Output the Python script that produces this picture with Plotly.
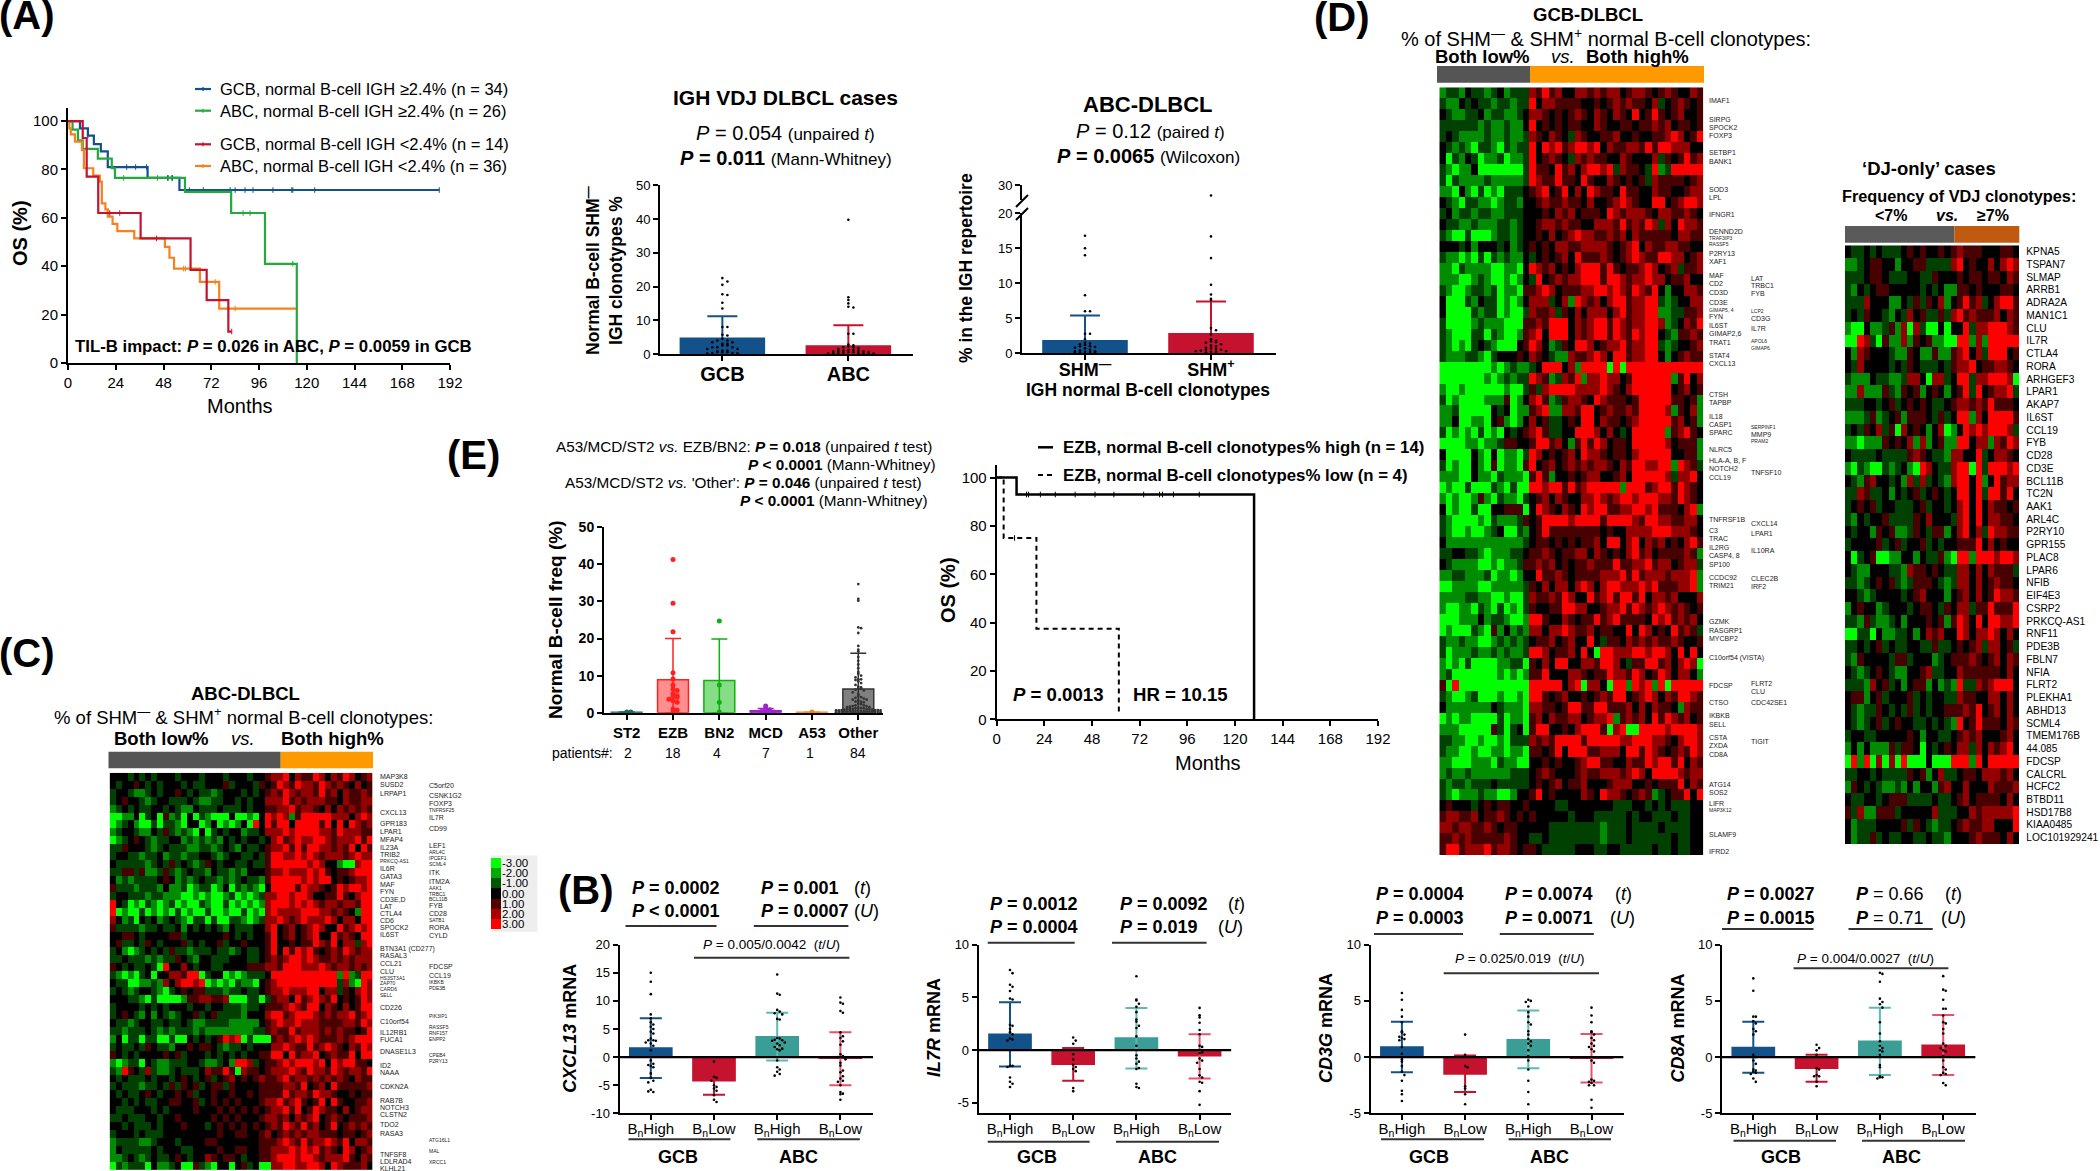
import numpy as np
import plotly.graph_objects as go

W, H = 2100, 1171
FONT = "Liberation Sans"

# ---------- panel A, survival curves (months, OS %) ----------
A_MONTHS = ["0", "24", "48", "72", "96", "120", "144", "168", "192"]
A_GCB_HI_X = [0, 6, 10, 13, 16.5, 20, 40, 56, 186.6]
A_GCB_HI_Y = [100, 97, 94, 90.5, 87.5, 81, 76.5, 71.5, 71.5]
A_GCB_HI_CENS = [10, 29.5, 34, 39.5, 50, 52.5, 61, 68, 81.5, 84, 89, 93, 103, 112.5, 113, 124, 186.6]
A_ABC_HI_X = [0, 2.3, 5, 7.4, 15, 22, 23.6, 58.8, 82, 99, 115, 115]
A_ABC_HI_Y = [100, 96.5, 92, 88.5, 84.5, 80.5, 76.5, 70.7, 62, 41, 41, 0]
A_ABC_HI_CENS = [28, 45, 50.5, 52, 88, 91.5, 113]
A_GCB_LO_X = [0, 7.4, 9.4, 15.2, 36.5, 61.6, 69.7, 80.6, 82.3]
A_GCB_LO_Y = [100, 93, 77, 62, 51.5, 38.5, 26, 13, 13]
A_GCB_LO_CENS = [21, 26, 44.5, 82.3]
A_ABC_LO_X = [0, 0.7, 1.4, 3.5, 7, 8, 12.7, 16, 17, 18.8, 20, 22.4, 24.8, 33.3, 48.7, 51, 53.3, 66.3, 76, 114.6]
A_ABC_LO_Y = [100, 97, 94.5, 91.5, 88, 80.5, 77.5, 75, 66, 63.5, 60.5, 57.5, 54.5, 51.5, 48, 43.5, 39, 33.5, 22.5, 22.5]
A_ABC_LO_CENS = [58, 59, 74, 84]
A_LEGEND = ["GCB, normal B-cell IGH ≥2.4% (n = 34)", "ABC, normal B-cell IGH ≥2.4% (n = 26)",
            "GCB, normal B-cell IGH &lt;2.4% (n = 14)", "ABC, normal B-cell IGH &lt;2.4% (n = 36)"]

# ---------- panel E, survival curves ----------
E_HI_X = [0, 10, 129.6, 129.6]
E_HI_Y = [100, 93, 93, 0]
E_HI_CENS = [15, 16, 22, 29.5, 39.5, 49.5, 59, 74, 82, 83.5, 89, 102]
E_LO_X = [0, 3.5, 20, 61.5, 61.5]
E_LO_Y = [100, 75, 37.5, 37.5, 2]
E_LO_CENS = [9]

# ---------- bars: mean and upper / lower whisker ----------
IGH_CATS = ["GCB", "ABC"]
IGH_MEAN = [4.7, 2.4]
IGH_HIGH = [11.2, 8.5]
IGH_GCB = [22.5, 21.5, 20.5, 17.7, 17.5, 15.2, 13.5, 8, 8, 5.7, 5.5, 4.5, 4, 4, 3.5, 3.5, 3, 3, 2.5, 2.5, 2, 2, 2, 1.5, 1.5, 1, 1, 0.8, 0.5, 0.5, 0.5, 0.3, 0.3, 0.2, 0.1]
IGH_ABC = [39.8, 16.8, 16, 15, 14, 13.8, 6, 6, 2.8, 2.6, 2.2, 2, 2, 1.8, 1.5, 1.2, 1.2, 1, 1, 0.9, 0.8, 0.7, 0.6, 0.5, 0.5, 0.4, 0.3, 0.3, 0.2, 0.2, 0.1, 0.1, 0.1]

SHM_CATS = ["SHM<sup>—</sup>", "SHM<sup>+</sup>"]
SHM_MEAN = [1.8, 2.8]
SHM_HIGH = [5.4, 7.4]
SHM_NEG = [16.8, 15, 14, 8.3, 6, 6, 2.8, 2.8, 2, 1.5, 1.4, 1.3, 1.2, 1, 1, 0.9, 0.8, 0.7, 0.5, 0.4, 0.3, 0.3, 0.2, 0.2, 0.1, 0.1, 0.1]
SHM_POS = [16.7, 13.6, 9.8, 8.4, 7.8, 7.6, 3.6, 3.3, 2.7, 2, 1.8, 1.7, 1.6, 1.5, 1.3, 1.1, 1, 0.8, 0.7, 0.6, 0.5, 0.5, 0.4, 0.3, 0.3, 0.2, 0.2, 0.1]
SHM_POS_BROKEN = [23]

E_CATS = ["ST2", "EZB", "BN2", "MCD", "A53", "Other"]
E_PATIENTS = ["2", "18", "4", "7", "1", "84"]
E_MEAN = [0.1, 8.9, 8.7, 0.5, 0.1, 6.4]
E_HIGH = [0.2, 20, 19.9, 1.1, 0.1, 16]
E_POINTS = [
    [0.2, 0.2],
    [41.3, 29.5, 21.8, 10.8, 9.1, 7.5, 6.4, 6, 5.2, 4.6, 4.4, 4.2, 3.6, 3.2, 2.8, 1, 0.7, 0.2],
    [24.7, 7.5, 2.8, 0.2],
    [1.8, 1, 0.8, 0.5, 0.4, 0.3, 0.2],
    [0.2],
    [34.7, 30.7, 30.2, 23, 22.8, 21.5, 18, 17, 16.5, 15, 14, 13, 12, 11, 10.5, 10, 9.5, 9, 9, 8.8, 8.5, 8, 7.5, 7, 6.8, 6.5, 6.5, 6.2, 6, 5.5,
     5, 4.5, 4.2, 4, 3.8, 3.5, 3.5, 3.3, 3, 3, 2.8, 2.5, 2.3, 2, 2, 1.8, 1.8, 1.6, 1.5, 1.5, 1.3, 1.3, 1.2, 1.2, 1, 1, 1, 0.9, 0.9, 0.8, 0.8, 0.7, 0.7, 0.7,
     0.6, 0.6, 0.6, 0.5, 0.5, 0.5, 0.4, 0.4, 0.4, 0.4, 0.3, 0.3, 0.3, 0.3, 0.2, 0.2, 0.2, 0.2, 0.1, 0.1],
]

B_CATS = ["B<sub>n</sub>High", "B<sub>n</sub>Low", "B<sub>n</sub>High", "B<sub>n</sub>Low"]

CXCL13_MEAN = [1.6, -4.2, 3.6, -0.2]
CXCL13_HIGH = [6.9, 0, 7.9, 4.4]
CXCL13_LOW = [-3.7, -6.7, -0.6, -5]
CXCL13_POINTS = [
    [15, 13.4, 11.2, 7.6, 6.9, 6.2, 5.8, 5.4, 5, 4.5, 4.2, 3.3, 3, 3, 2.9, 2.6, 2.4, 2, 1.2, -0.6, -1.2, -1.4, -1.6, -1.8, -2.9, -3.7, -4.2, -4.5, -5.8, -6.2, -6.1],
    [-0.8, -3.5, -3.7, -4.2, -5, -5.3, -5.6, -6, -6.8, -7.6, -8],
    [14.7, 11.3, 11.1, 8.4, 8.1, 7.8, 7.6, 6.8, 6.7, 3.4, 3.3, 3.1, 3, 2.9, 2.6, 2.4, 2.1, 1.8, 1.5, 1.4, 1.2, -0.6, -1.8, -2.2, -2.6, -3, -3.3],
    [10.6, 9.7, 9.5, 8.2, 7.9, 4.4, 3.7, 3.4, 2.8, 2.2, 0.5, 0.2, 0, -0.4, -1, -1.5, -2.4, -2.7, -3.4, -3.8, -4.2, -4.4, -5, -6.2, -6.5, -6.6, -7.6],
]
IL7R_MEAN = [1.5, -1.35, 1.15, -0.55]
IL7R_HIGH = [4.55, 0.2, 4.0, 1.5]
IL7R_LOW = [-1.55, -2.9, -1.75, -2.7]
IL7R_POINTS = [
    [7.6, 7.3, 6.2, 6, 5.6, 4.9, 4.8, 2.4, 2.3, 2, 1.7, 1.5, 1.1, 1, 0.9, -1.5, -1.5, -1.6, -2.6, -3, -3.2, -3.5],
    [1.2, 0.9, 0.6, -0.4, -0.9, -1.4, -1.6, -1.8, -2, -3.6, -3.9],
    [7, 4.8, 4.7, 4.4, 4.1, 3.6, 2.9, 2.7, 2.3, 2.1, 1.3, 0.4, -0.5, -0.8, -1.1, -1.3, -1.7, -1.8, -3.2, -3.5, -3.6],
    [4, 3.3, 3.1, 2.6, 1.9, 1.5, 0.4, 0.3, 0, -0.2, -0.3, -0.8, -1, -1.2, -1.8, -2.4, -2.6, -3, -3.1, -3.9, -5.2],
]
CD3G_MEAN = [0.9, -1.5, 1.55, -0.1]
CD3G_HIGH = [3.15, 0.15, 4.15, 2.05]
CD3G_LOW = [-1.35, -3.1, -1, -2.25]
CD3G_POINTS = [
    [5.7, 5.1, 4.2, 3.6, 3.1, 2.3, 2.2, 2, 1.8, 1.7, 1.6, 1.5, 0.9, 0.3, -0.2, -0.4, -0.8, -1.3, -1.6, -2.1, -3, -3.3, -3.9],
    [2, 0.2, -0.8, -0.9, -2.6, -2.8, -3.3, -4.2],
    [5.1, 5, 4.9, 4.5, 4, 3.6, 3.1, 2.9, 2.3, 2, 1.6, 1.4, 1.2, 1, 0.6, 0.1, -0.3, -1.1, -2.1, -3.1, -4.2],
    [4.4, 3.7, 3.1, 2.3, 2.2, 2, 1.7, 1.5, 1.2, 1, 0.9, 0.7, 0.5, -0.3, -0.5, -2, -2.1, -2.2, -2.3, -2.5, -2.5, -3.8, -4.5],
]
CD8A_MEAN = [0.85, -1, 1.4, 1.05]
CD8A_HIGH = [3.15, 0.2, 4.4, 3.75]
CD8A_LOW = [-1.4, -2.2, -1.6, -1.6]
CD8A_POINTS = [
    [7, 5.9, 3.6, 3.6, 3.2, 3, 2.5, 2.3, 2, 0.2, 0, -0.3, -0.6, -1.1, -1.2, -1.3, -1.4, -1.5, -1.9, -2.2],
    [1.1, 0.8, 0.6, 0.2, -1, -1.1, -1.6, -1.7, -1.7, -2.2, -2.6],
    [7.5, 7.4, 6.7, 5.2, 4.9, 4.7, 4.4, 3.1, 2.1, 1.4, 1, 0.8, 0.6, 0.5, 0.2, -0.7, -0.9, -1.7, -1.8, -1.8, -1.9],
    [7.2, 6, 5.9, 5.1, 4.3, 4.3, 3.7, 3.1, 3, 2.5, 2.1, 1.2, 1, 0.8, 0.6, 0.5, 0.1, -0.3, -0.9, -1.1, -1.4, -1.5, -1.6, -2.3, -2.5],
]

# ---------- heatmaps, hand read cell by cell: 0 = -3 (green) .. 3 = 0 (black) .. 6 = +3 (red) ----------
HEAT_C = """
33323232333 23332333233 32334556354 46535465345
32334323233 32322333423 33243465465 54654543534
23321123233 43232212333 23234546545 54645354454
23433212332 22321122332 32335556454 55544354455
12323223323 21132223222 32334455645 54353545454
00113023041 20302100030 01036565146 66665553565
01231002022 10330130101 30636466366 66463636545
12332113242 12103023233 12235556566 66554655544
01234321223 31212121323 23323564565 56654555646
22433321232 22112212321 32234556464 66554546364
23322122312 21223321233 22324665565 65455545655
32222212324 23212432332 23224666666 56533100566
22442411242 12322132212 13334556555 65643445666
31212222343 12123221212 32214666665 65663434556
42221222131 12012201302 12103666646 55434656656
23322212211 10010100120 10125566566 53344643566
63201021012 01002100201 01015666565 65455455466
60100201010 20100200100 20105655556 66554543166
53120323123 21022020022 10125565456 55565355366
42222122322 31323232132 22335634534 56533645656
33443233334 42333333432 32334634534 56336454366
34223243233 34232334233 43334633434 46546355256
23101232324 22122232212 32234636465 64345465455
22322212122 43213322233 32234545665 65445454555
43232232063 35323322333 34445546665 55654554545
21010230335 54660233010 12223666666 66666161266
32200112153 56656010102 11034566666 66666251065
23212332102 34344222122 32234556555 66355243565
33322102000 01445544500 02202455364 56546343465
23333232323 33233233222 12234445654 66354353466
23432131321 23342342222 13335664566 65454556456
32212332232 23211222211 11134565565 55444455465
22122232121 22212111111 11224544645 55454544346
13022022002 00323234656 02000454565 65444545666
23223243221 33434432122 32333556544 64565435465
43232333343 42333232323 23344663645 56345446366
10122032112 22332112316 65234456566 65636566443
21643252112 32223544640 54434555654 65546545546
32322232332 34323423453 43454456455 45454543544
23222122324 24342344243 33344445546 34536444445
32322343233 43423343343 34344446455 46554334344
33232322334 43342343434 33345564564 34636433445
32223332323 33343334343 43434556463 46544353455
22322233233 43333343434 33345545354 56345434445
33232223233 34333234343 43434546546 45346345454
23332322233 33333334334 43345345454 55444344345
12222112333 23333443333 33344456546 45565463554
13222223233 32233334334 43344555656 56454365345
11232123223 43233543443 23344566656 65455564354
02122203112 30042103303 42300556655 66536544453
"""

HEAT_D = """
12213221231222 546453355 454553455 434543354
21132322122122 635544443 343454544 352345434
32112231221123 554343454 354354363 464345334
22222212112113 634343443 354334434 454534434
23211112112112 543543254 334453343 344565346
32121022102122 636564566 563544554 646655533
30213201120112 634543254 544335433 352434645
21011300000002 644364535 665625443 261266666
20211112111112 654464436 433543434 254444345
11031020102223 456346353 654436443 354433455
32102211012213 345445443 533456543 366345665
23122122112223 334354534 443654555 435544543
32211211122123 345545443 355546454 652536554
21002000122123 343534565 544545354 444435544
33323133323123 434355445 555434563 544554433
21101020212113 234345364 445434565 446655345
11021111001103 654534356 664643445 653452445
11100121001013 263454556 664665455 655344533
21001221201104 456534445 566565465 463133554
30002132201013 555235165 453566455 662123355
30000212201002 544524353 555356455 661122445
20000121110004 454666354 566465455 665123546
21000220210014 563666354 566465465 663214454
21010232100034 653124366 534556455 662123345
21112210233343 543211544 565366455 663134544
00000000101211 236663516 666060666 666666666
00000001012122 654125461 556553466 666614635
10010000001002 425666655 556543566 666634534
20100001114013 564124554 365444346 666644341
11200000323011 456115546 634544546 666514351
11300110341013 534223436 635443456 666645341
20101020103234 564223366 653532366 666145643
00001101124433 466453146 465344366 666534441
30000310301102 653434536 554344356 666633441
20100310401104 634534545 455435466 556616542
11100311021110 464133434 553345366 666525563
01002000210200 665664645 666661666 456646543
10100141021102 345354335 565456656 665546543
30100200334440 365435436 566445566 564443561
21000010211124 346666566 664666654 665544553
21001001230021 346444444 443433555 566655543
31111111111112 344343434 453663563 545343564
22332210111223 445434455 354343564 534444541
32111100101124 454534344 544464455 645534552
11221112011013 364454344 445556464 555455561
00111100111112 435355356 535665556 564445561
11112211001002 544546533 645646646 355453335
10011021020102 433446655 334556465 456545434
00011131221001 664335434 464564444 365645453
01000210413121 553556544 534433636 534364542
21121100121212 344534533 632443545 454454334
20111211212112 665344536 306655566 566536363
10102000011220 435366335 546653244 664535650
12000000010101 446333554 344655465 346535531
40600000000000 666663560 553066165 616066666
21001200010010 664345334 345466345 653546654
31111111321110 554434664 466444535 354431544
01011000020110 453544553 455614545 364654534
11100000420230 466334356 664056006 666566665
22110010010222 545466664 666665566 655435665
21100100110110 443463666 445553664 654345465
11000111021100 334343345 664433544 656646354
12112111111222 345433345 445554565 366665455
21221222322222 343453445 333455533 434446354
21011121100133 463433335 436554345 412344636
34333234344334 333322333 333322233 232322233
45544534454343 433333233 322222323 322232233
55455445434433 333222222 221222322 223222233
44545444445433 223222222 221222322 222232233
46645556455434 432222233 322332222 232232233
"""

HEAT_DJ = """
3223232 2234343 3434544 4333443
1123443 3133442 2225634 3353565
2223443 2223322 4333434 4344354
2132344 3333323 2311443 4333443
2225333 1132424 3513464 5235664
2324332 1325342 2425645 4445354
1003112 4150520 0303362 5566654
0065204 1151434 1100661 5166666
3154333 2114311 4114563 5266634
3253333 2324322 2324556 3445543
2111322 1125530 5523662 5566650
1151114 2143413 4313462 6345562
2223323 4234343 2234554 5464443
1112412 3414443 2423661 5366664
2324352 4053431 3501365 6566652
1101114 3435151 3411663 5515465
3222232 2224543 2215533 6235543
1021002 1231065 3225660 6266656
3214533 2315252 3215663 6136455
2254223 1323423 4323663 6266463
2343423 3222342 3323563 6354434
2132334 2222435 3332563 6355443
3233143 4112432 4413563 5265544
2333342 3423342 3233444 6353433
3023400 1133132 2410661 6665665
3211333 2215443 4322553 5354442
2212343 4212444 3212553 5345443
3321233 3323453 3313453 5346554
1343312 3332344 3243552 4464446
2214211 2313334 3414653 6366556
0022031 1223135 4533653 5565353
2232342 3223322 4223434 5255342
2143333 2442333 1234445 4345354
3212343 2113345 2233544 4444353
2221534 2313441 3121622 5456663
3441342 3334232 3322544 3355353
3212243 2324232 3344454 6345353
3212342 3433223 2321634 6444354
2332233 3334313 3223454 5333453
1313111 4244303 2343552 5354563
0616050 5060003 0006661 6366666
2233232 2224341 3522344 3555453
1432321 1213133 1453353 3354445
3223323 4442222 3223453 4444353
4251144 4233333 5222335 4555556
3122233 3342432 1223454 4553336
3122423 2233223 2213334 5444353
"""

DJ_GENES = ["KPNA5", "TSPAN7", "SLMAP", "ARRB1", "ADRA2A", "MAN1C1", "CLU", "IL7R", "CTLA4", "RORA", "ARHGEF3", "LPAR1",
            "AKAP7", "IL6ST", "CCL19", "FYB", "CD28", "CD3E", "BCL11B", "TC2N", "AAK1", "ARL4C", "P2RY10", "GPR155",
            "PLAC8", "LPAR6", "NFIB", "EIF4E3", "CSRP2", "PRKCQ-AS1", "RNF11", "PDE3B", "FBLN7", "NFIA", "FLRT2",
            "PLEKHA1", "ABHD13", "SCML4", "TMEM176B", "44.085", "FDCSP", "CALCRL", "HCFC2", "BTBD11", "HSD17B8",
            "KIAA0485", "LOC101929241"]

LEGEND_VALUES = [-3, -2, -1, 0, 1, 2, 3]
LEGEND_TEXT = ["-3.00", "-2.00", "-1.00", "0.00", "1.00", "2.00", "3.00"]

# gene labels beside the two big heatmaps
C_LEFT = ["MAP3K8", "SUSD2", "LRPAP1", "CXCL13", "GPR183", "LPAR1", "MFAP4", "IL23A", "TRIB2", "PRKCQ-AS1", "IL6R", "GATA3", "MAF", "FYN",
          "CD3E,D", "LAT", "CTLA4", "CD6", "SPOCK2", "IL6ST", "BTN3A1 (CD277)", "RASAL3", "CCL21", "CLU", "HS3ST3A1", "ZAP70", "CARD6", "SELL",
          "CD226", "C10orf54", "IL12RB1", "FUCA1", "DNASE1L3", "ID2", "NAAA", "CDKN2A", "RAB7B", "NOTCH3", "CLSTN2", "TDO2", "RASA3", "TNFSF8",
          "LDLRAD4", "KLHL21"]
C_LEFT_Y = [776, 784.8, 793.2, 812.2, 823, 831.5, 839.3, 847.3, 854.4, 861, 868, 876.5, 884.2, 891.3, 899, 906.4, 913.7, 920.8, 927.8, 934.8,
            948.9, 955.9, 963, 971, 977.7, 983.3, 989, 994.9, 1007.6, 1021.6, 1032.2, 1039.9, 1051.5, 1065.5, 1072.6, 1086.6, 1100.3, 1107.7,
            1114.7, 1124.2, 1133.3, 1154.4, 1161.8, 1168]
C_RIGHT = ["C5orf20", "CSNK1G2", "FOXP3", "TNFRSF25", "IL7R", "CD99", "LEF1", "ARL4C", "IPCEF1", "SCML4", "ITK", "ITM2A", "AAK1", "TRBC1", "BCL11B",
           "FYB", "CD28", "SATB1", "RORA", "CYLD", "FDCSP", "CCL19", "IKBKB", "PDE3B", "PIK3IP1", "RASSF5", "RNF157", "ENPP2", "CPEB4", "P2RY13",
           "ATG16L1", "MAL", "XRCC1"]
C_RIGHT_Y = [785.5, 795.7, 803.4, 810.4, 817.8, 828.4, 845.2, 852.3, 857.9, 863.5, 872.6, 881, 888.1, 893.7, 899.3, 905.7, 913.4, 920.4, 927.5,
             935.9, 966.8, 975.2, 982.3, 987.9, 1016, 1027.2, 1032.9, 1038.5, 1055.3, 1061, 1139.7, 1150.9, 1162.2]
C_SMALL = {"PRKCQ-AS1", "HS3ST3A1", "ZAP70", "CARD6", "SELL", "TNFRSF25", "ARL4C", "IPCEF1", "SCML4", "AAK1", "TRBC1", "BCL11B", "SATB1",
           "IKBKB", "PDE3B", "PIK3IP1", "RASSF5", "RNF157", "ENPP2", "CPEB4", "P2RY13", "ATG16L1", "MAL", "XRCC1"}
D_LEFT = ["IMAF1", "SIRPG", "SPOCK2", "FOXP3", "SETBP1", "BANK1", "SOD3", "LPL", "IFNGR1", "DENND2D", "TRAF3IP3", "RASSF5", "P2RY13", "XAF1", "MAF",
          "CD2", "CD3D", "CD3E", "GIMAP5, 4", "FYN", "IL6ST", "GIMAP2,6", "TRAT1", "STAT4", "CXCL13", "CTSH", "TAPBP", "IL18", "CASP1", "SPARC",
          "NLRC5", "HLA-A, B, F", "NOTCH2", "CCL19", "TNFRSF1B", "C3", "TRAC", "IL2RG", "CASP4, 8", "SP100", "CCDC92", "TRIM21", "GZMK", "RASGRP1",
          "MYCBP2", "C10orf54 (VISTA)", "FDCSP", "CTSO", "IKBKB", "SELL", "CSTA", "ZXDA", "CD8A", "ATG14", "SOS2", "LIFR", "MAP3K12", "SLAMF9", "IFRD2"]
D_LEFT_Y = [100, 119.3, 127.7, 136, 153, 161.3, 189, 197.7, 214.3, 231.3, 238.3, 244, 253.3, 261.7, 275, 283.7, 292, 302.7, 309.7, 316.7, 325,
            333.7, 342, 355, 363.3, 394.3, 402.7, 416, 424.3, 432.7, 450, 460.7, 469, 477.7, 519.7, 530.3, 538.7, 547.3, 555.7, 564, 577.3, 585.7,
            621.7, 630, 638.7, 657.7, 685.7, 702.7, 715.7, 724, 737, 745.7, 754, 784, 792.7, 803.3, 810.3, 834, 851]
D_RIGHT = ["LAT", "TRBC1", "FYB", "LCP2", "CD3G", "IL7R", "APOL6", "GIMAP6", "SERPINF1", "MMP9", "PRAM2", "TNFSF10", "CXCL14", "LPAR1", "IL10RA",
           "CLEC2B", "IRF2", "FLRT2", "CLU", "CDC42SE1", "TIGIT"]
D_RIGHT_Y = [278.5, 285.2, 293, 310.6, 318.7, 328, 341.4, 348, 427, 434, 441, 472.7, 523.6, 533, 550.4, 578, 586.5, 683, 691, 702, 741.8]
D_SMALL = {"TRAF3IP3", "RASSF5", "GIMAP5, 4", "MAP3K12", "LCP2", "APOL6", "GIMAP6", "SERPINF1", "PRAM2"}

BLUE, RED, TEAL = "#12518a", "#c4122f", "#3a9e96"
GREEN, ORANGE = "#22aa3c", "#f58220"
GREY_BAR, ORANGE_BAR, RUST_BAR = "#555555", "#ff9900", "#c05a10"

fig = go.Figure()
annots, shapes = [], []
axes = {}


def text(x, y, s, size=14, anchor="left", angle=0, color="black"):
    annots.append(dict(x=x / W, y=1 - y / H, xref="paper", yref="paper", text=s, showarrow=False, xanchor=anchor,
                       yanchor="middle", textangle=angle, borderpad=0, borderwidth=0,
                       font=dict(family=FONT, size=size, color=color)))


def rule(x0, y0, x1, y1, color="#333333", width=2, dash="solid"):
    shapes.append(dict(type="line", xref="paper", yref="paper", x0=x0 / W, x1=x1 / W, y0=1 - y0 / H, y1=1 - y1 / H,
                       line=dict(color=color, width=width, dash=dash)))


def block(x0, y0, x1, y1, color):
    shapes.append(dict(type="rect", xref="paper", yref="paper", x0=x0 / W, x1=x1 / W, y0=1 - y0 / H, y1=1 - y1 / H,
                       fillcolor=color, line=dict(width=0), layer="below"))


def add_axes(n, left, right, top, bottom, xr, yr, xt=None, xl=None, yt=None, yl=None, xsize=15, ysize=15, show_x=True, tick=5):
    suffix = "" if n == 1 else str(n)
    # automargin comes on from the default template and would push every panel inwards
    base = dict(showgrid=False, zeroline=False, showline=True, linecolor="black", linewidth=2, ticks="outside",
                ticklen=tick, tickwidth=2, tickcolor="black", fixedrange=True, automargin=False)
    x = dict(base, domain=[left / W, right / W], range=xr, anchor="y" + suffix, tickvals=xt, ticktext=xl,
             tickfont=dict(family=FONT, size=xsize, color="black"), tickangle=0)
    if not show_x:
        x.update(visible=False)
    axes["xaxis" + suffix] = x
    axes["yaxis" + suffix] = dict(base, domain=[1 - bottom / H, 1 - top / H], range=yr, anchor="x" + suffix, tickvals=yt, ticktext=yl,
                                  tickfont=dict(family=FONT, size=ysize, color="black"))
    return "x" + suffix, "y" + suffix


def step_value(xs, ys, t):
    # value of a step curve at time t
    idx = max(i for i, v in enumerate(xs) if v <= t)
    return ys[idx]


def km(xa, ya, xs, ys, cens, color, width=2.2, dash="solid"):
    fig.add_trace(go.Scatter(x=xs, y=ys, mode="lines", line=dict(color=color, width=width, shape="hv", dash=dash),
                             xaxis=xa, yaxis=ya, showlegend=False, cliponaxis=False))
    fig.add_trace(go.Scatter(x=cens, y=[step_value(xs[:-1] if xs[-1] == xs[-2] else xs, ys, c) for c in cens], mode="markers",
                             marker=dict(symbol="line-ns", size=4, color=color, line=dict(color=color, width=1)),
                             xaxis=xa, yaxis=ya, showlegend=False, cliponaxis=False))


def swarm(values, center, bin_size, step):
    # spread points with the same rounded value sideways
    seen = {}
    xs = []
    for v in values:
        b = round(v / bin_size)
        k = seen.get(b, 0)
        seen[b] = k + 1
        side = 1 if k % 2 else -1
        xs.append(center + side * ((k + 1) // 2) * step)
    return xs


def bar(xa, ya, pos, mean, high, low, fill, err, edge=None, cap=10, thick=2):
    fig.add_trace(go.Bar(x=[pos], y=[mean], width=0.667, xaxis=xa, yaxis=ya, showlegend=False,
                         marker=dict(color=fill, line=dict(color=edge or fill, width=1.5)),
                         error_y=dict(type="data", symmetric=False, array=[max(high - mean, 0)], arrayminus=[max(mean - low, 0)],
                                      color=err, thickness=thick, width=cap)))


def dots(xa, ya, xs, ys, color="black", size=2.6):
    fig.add_trace(go.Scatter(x=xs, y=ys, mode="markers", marker=dict(color=color, size=size, line=dict(width=0)),
                             xaxis=xa, yaxis=ya, showlegend=False, cliponaxis=False))


def heat_rows(block_text, cols):
    rows = [r.replace(" ", "") for r in block_text.strip().splitlines()]
    return np.array([[int(c) - 3 for c in r.ljust(cols, "3")[:cols]] for r in rows])


# steps 1 and 2 are much darker than the end colours in the picture
HEAT_SCALE = [[0, "#00ff00"], [1 / 6, "#008c00"], [2 / 6, "#004000"], [0.5, "#000000"],
              [4 / 6, "#480000"], [5 / 6, "#940000"], [1, "#ff0000"]]


def heat(xa, ya, z, scale=HEAT_SCALE):
    fig.add_trace(go.Heatmap(z=z, xaxis=xa, yaxis=ya, colorscale=scale, zmin=-3, zmax=3, showscale=False, hoverinfo="skip"))


# ---------- (A) ----------
xa, ya = add_axes(1, 68, 450, 108, 363, [0, 192], [0, 105.4], list(range(0, 193, 24)), A_MONTHS,
                  list(range(0, 101, 20)), [str(v) for v in range(0, 101, 20)])
km(xa, ya, A_GCB_HI_X, A_GCB_HI_Y, A_GCB_HI_CENS, BLUE)
km(xa, ya, A_ABC_HI_X, A_ABC_HI_Y, A_ABC_HI_CENS, GREEN)
km(xa, ya, A_ABC_LO_X, A_ABC_LO_Y, A_ABC_LO_CENS, ORANGE)
km(xa, ya, A_GCB_LO_X, A_GCB_LO_Y, A_GCB_LO_CENS, RED)
for label, yy, col in zip(A_LEGEND, [89, 110.7, 144.3, 166], [BLUE, GREEN, RED, ORANGE]):
    rule(195, yy, 211, yy, col, 2.2)
    rule(203, yy - 2, 203, yy + 2, col, 1.2)
    text(220, yy, label, 16.5)
text(75, 346.7, "<b>TIL-B impact: <i>P</i> = 0.026 in ABC, <i>P</i> = 0.0059 in GCB</b>", 16.8)
text(20, 233, "<b>OS (%)</b>", 20, "center", -90)
text(240, 406, "Months", 20, "center")
text(-1, 15, "<b>(A)</b>", 40)

# ---------- IGH VDJ bars ----------
xa, ya = add_axes(2, 660, 913, 185.3, 354, [-0.495, 1.513], [0, 50], [0, 1], [f"<b>{c}</b>" for c in IGH_CATS],
                  [0, 10, 20, 30, 40, 50], ["0", "10", "20", "30", "40", "50"], xsize=20, ysize=13)
axes["xaxis2"].update(ticklabelstandoff=-4)
bar(xa, ya, 0, IGH_MEAN[0], IGH_HIGH[0], 0, BLUE, BLUE, cap=15)
bar(xa, ya, 1, IGH_MEAN[1], IGH_HIGH[1], 0, RED, RED, cap=15)
dots(xa, ya, swarm(IGH_GCB, 0, 1, 0.04), IGH_GCB)
dots(xa, ya, swarm(IGH_ABC, 1, 1, 0.04), IGH_ABC)
text(785.5, 97.3, "<b>IGH VDJ DLBCL cases</b>", 21, "center")
text(785.5, 133.3, "<i>P</i> = 0.054 <span style='font-size:17px'>(unpaired <i>t</i>)</span>", 20, "center")
text(785.5, 158.3, "<b><i>P</i> = 0.011</b> <span style='font-size:17px'>(Mann-Whitney)</span>", 20, "center")
text(603, 270, "<b>Normal B-cell SHM<sup>—</sup><br>IGH clonotypes %</b>", 17.5, "center", -90)

# ---------- SHM bars, broken axis ----------
xa, ya = add_axes(3, 1022, 1275.5, 213.3, 353.3, [-0.5, 1.512], [0, 20], [0, 1], [f"<b>{c}</b>" for c in SHM_CATS],
                  [0, 5, 10, 15, 20], ["0", "5", "10", "15", "20"], xsize=18, ysize=13)
axes["xaxis3"].update(ticklabelstandoff=-6)
xb, yb = add_axes(4, 1022, 1275.5, 185, 200, [-0.5, 1.512], [20, 30], yt=[30], yl=["30"], ysize=13, show_x=False)
bar(xa, ya, 0, SHM_MEAN[0], SHM_HIGH[0], 0, BLUE, BLUE, cap=15)
bar(xa, ya, 1, SHM_MEAN[1], SHM_HIGH[1], 0, RED, RED, cap=15)
dots(xa, ya, swarm(SHM_NEG, 0, 0.5, 0.04), SHM_NEG)
dots(xa, ya, swarm(SHM_POS, 1, 0.5, 0.04), SHM_POS)
dots(xb, yb, [1], SHM_POS_BROKEN)
rule(1016, 207, 1028, 195, "black", 2)
rule(1016, 220, 1028, 208, "black", 2)
text(1148, 104.3, "<b>ABC-DLBCL</b>", 22, "center")
text(1150, 131, "<i>P</i> = 0.12 <span style='font-size:17px'>(paired <i>t</i>)</span>", 20, "center")
text(1148, 156, "<b><i>P</i> = 0.0065</b> <span style='font-size:17px'>(Wilcoxon)</span>", 20, "center")
text(966, 268, "<b>% in the IGH repertoire</b>", 17.5, "center", -90)
text(1148, 390, "<b>IGH normal B-cell clonotypes</b>", 17.5, "center")

# ---------- (E) ----------
E_FILLS = ["#1a6a5a", "#ff8f8f", "#85dd85", "#a020d0", "#f58220", "#808080"]
E_EDGES = ["#1a6a5a", "#ff2020", "#10b010", "#a020d0", "#f58220", "#333333"]
xa, ya = add_axes(5, 604, 883.3, 527.3, 712.7, [-0.49, 5.54], [0, 50], list(range(6)), [f"<b>{c}</b>" for c in E_CATS],
                  [0, 10, 20, 30, 40, 50], [f"<b>{v}</b>" for v in [0, 10, 20, 30, 40, 50]], xsize=15, ysize=14)
for i, cat in enumerate(E_CATS):
    bar(xa, ya, i, E_MEAN[i], E_HIGH[i], 0, E_FILLS[i], E_EDGES[i], E_EDGES[i], cap=8, thick=1.5)
    size = 2.8 if cat == "Other" else 5
    dots(xa, ya, swarm(E_POINTS[i], i, 1, 0.09 if cat != "Other" else 0.06), E_POINTS[i], E_EDGES[i], size)
text(931.7, 446.7, "A53/MCD/ST2 <i>vs.</i> EZB/BN2: <b><i>P</i> = 0.018</b> (unpaired <i>t</i> test)", 15.3, "right")
text(935.7, 464, "<b><i>P</i> &lt; 0.0001</b> (Mann-Whitney)", 15.3, "right")
text(921.7, 482.7, "A53/MCD/ST2 <i>vs.</i> 'Other': <b><i>P</i> = 0.046</b> (unpaired <i>t</i> test)", 15.3, "right")
text(928.3, 500, "<b><i>P</i> &lt; 0.0001</b> (Mann-Whitney)", 15.3, "right")
text(555, 620, "<b>Normal B-cell freq (%)</b>", 19, "center", -90)
text(551.7, 753.3, "patients#:", 14)
for px, lab in zip([628, 673, 716.7, 765.7, 810, 858.3], E_PATIENTS):
    text(px, 753.3, lab, 14, "center")
text(447, 455, "<b>(E)</b>", 40)

xa, ya = add_axes(6, 996.7, 1378, 465, 719.3, [0, 192], [0, 105.2], list(range(0, 193, 24)), A_MONTHS,
                  list(range(0, 101, 20)), [str(v) for v in range(0, 101, 20)])
km(xa, ya, E_HI_X, E_HI_Y, E_HI_CENS, "black", 2.5)
km(xa, ya, E_LO_X, E_LO_Y, E_LO_CENS, "black", 2, "5px,4px")
rule(1038, 447.3, 1053, 447.3, "black", 2.5)
rule(1038, 475, 1053, 475, "black", 2, "5px,4px")
text(1063, 447.3, "<b>EZB, normal B-cell clonotypes% high (n = 14)</b>", 16.8)
text(1063, 475, "<b>EZB, normal B-cell clonotypes% low (n = 4)</b>", 16.8)
text(1013, 694, "<b><i>P</i> = 0.0013</b>", 18.6)
text(1133, 694, "<b>HR = 10.15</b>", 18.6)
text(948, 590, "<b>OS (%)</b>", 20, "center", -90)
text(1208, 763.3, "Months", 20, "center")

# ---------- (B) ----------
B_PANELS = [
    dict(n=7, left=619.5, right=873, centers=[650.8, 714, 777.2, 839.9], yr=[-10, 20], yt=[-10, -5, 0, 5, 10, 15, 20],
         mean=CXCL13_MEAN, high=CXCL13_HIGH, low=CXCL13_LOW, pts=CXCL13_POINTS, name="CXCL13", title_x=569.8),
    dict(n=8, left=978.7, right=1231.4, centers=[1010, 1073.2, 1136, 1199.1], yr=[-6, 10], yt=[-5, 0, 5, 10],
         mean=IL7R_MEAN, high=IL7R_HIGH, low=IL7R_LOW, pts=IL7R_POINTS, name="IL7R", title_x=934),
    dict(n=9, left=1370.5, right=1623.6, centers=[1401.9, 1465.1, 1527.9, 1591.7], yr=[-5, 10], yt=[-5, 0, 5, 10],
         mean=CD3G_MEAN, high=CD3G_HIGH, low=CD3G_LOW, pts=CD3G_POINTS, name="CD3G", title_x=1326),
    dict(n=10, left=1722, right=1975.6, centers=[1753.3, 1816.6, 1879.9, 1943.2], yr=[-5, 10], yt=[-5, 0, 5, 10],
         mean=CD8A_MEAN, high=CD8A_HIGH, low=CD8A_LOW, pts=CD8A_POINTS, name="CD8A", title_x=1677.5),
]
B_FILL = [BLUE, RED, TEAL, RED]
B_ERR = [BLUE, RED, "#5cbab5", "#e8526a"]
for p in B_PANELS:
    unit = p["centers"][1] - p["centers"][0]
    xr = [(p["left"] - p["centers"][0]) / unit, (p["right"] - p["centers"][0]) / unit]
    xa, ya = add_axes(p["n"], p["left"], p["right"], 944.7, 1113.3, xr, p["yr"], [0, 1, 2, 3], B_CATS,
                      p["yt"], [str(v) for v in p["yt"]], xsize=15, ysize=13)
    axes[f"xaxis{p['n']}"].update(ticklabelstandoff=-4)
    for i in range(4):
        bar(xa, ya, i, p["mean"][i], p["high"][i], p["low"][i], B_FILL[i], B_ERR[i], cap=11)
    fig.add_trace(go.Scatter(x=xr, y=[0, 0], mode="lines", line=dict(color="black", width=2.2), xaxis=xa, yaxis=ya,
                             showlegend=False, hoverinfo="skip"))
    for i in range(4):
        dots(xa, ya, swarm(p["pts"][i], i, 0.5 if p["n"] != 7 else 1, 0.04), p["pts"][i])
    text(p["title_x"], 1028, f"<b><i>{p['name']}</i> mRNA</b>", 18, "center", -90)

text(558, 890, "<b>(B)</b>", 40)


def p_block(first, second, y1, y2, x1, x2, xt, xu):
    text(x1, y1, first[0], 18)
    text(x1, y2, first[1], 18)
    text(x2, y1, second[0], 18)
    text(x2, y2, second[1], 18)
    text(xt, y1, "(<i>t</i>)", 18)
    text(xu, y2, "(<i>U</i>)", 18)


p_block(["<b><i>P</i> = 0.0002</b>", "<b><i>P</i> &lt; 0.0001</b>"], ["<b><i>P</i> = 0.001</b>", "<b><i>P</i> = 0.0007</b>"],
        887.7, 910.7, 632, 761.3, 854.3, 854.3)
p_block(["<b><i>P</i> = 0.0012</b>", "<b><i>P</i> = 0.0004</b>"], ["<b><i>P</i> = 0.0092</b>", "<b><i>P</i> = 0.019</b>"],
        904, 926.7, 990, 1119.5, 1227.5, 1218)
p_block(["<b><i>P</i> = 0.0004</b>", "<b><i>P</i> = 0.0003</b>"], ["<b><i>P</i> = 0.0074</b>", "<b><i>P</i> = 0.0071</b>"],
        894.3, 917.7, 1375.7, 1504.9, 1614.7, 1609.5)
p_block(["<b><i>P</i> = 0.0027</b>", "<b><i>P</i> = 0.0015</b>"], ["<b><i>P</i></b> = 0.66", "<b><i>P</i></b> = 0.71"],
        894.3, 917.7, 1727.2, 1856.4, 1945.3, 1940.6)

text(703, 944.3, "<i>P</i> = 0.005/0.0042  (<i>t</i>/<i>U</i>)", 13.5)
text(1455.2, 958.3, "<i>P</i> = 0.025/0.019  (<i>t</i>/<i>U</i>)", 13.5)
text(1796.7, 958.3, "<i>P</i> = 0.004/0.0027  (<i>t</i>/<i>U</i>)", 13.5)

for x0, x1, yy in [(625.5, 716.5, 926), (753.8, 848.4, 926), (694, 849.4, 957.7),
                   (987.7, 1074.7, 942.7), (1112, 1206.6, 942.7),
                   (1374, 1463, 934), (1499.7, 1593.8, 934), (1443.7, 1599, 973.3),
                   (1722, 1813.5, 929), (1848.5, 1932.7, 929), (1793.6, 1948.4, 968.3),
                   (628.5, 730.4, 1139.3), (757.3, 859.8, 1139.3),
                   (987.7, 1089.6, 1141.7), (1116, 1219, 1141.7),
                   (1381, 1484, 1139.3), (1508.6, 1611, 1139.3),
                   (1733.5, 1836, 1140.7), (1862, 1965, 1140.7)]:
    rule(x0, yy, x1, yy)
for px, lab in [(678.2, "GCB"), (798.6, "ABC"), (1037.4, "GCB"), (1157.8, "ABC"),
                (1429, "GCB"), (1549.9, "ABC"), (1780.5, "GCB"), (1901.3, "ABC")]:
    text(px, 1157, f"<b>{lab}</b>", 18, "center")

# ---------- (C) heatmap ----------
z_c = heat_rows(HEAT_C, 44)
xa, ya = add_axes(11, 109.6, 372.5, 772.8, 1170, [-0.5, 43.5], [z_c.shape[0] - 0.5, -0.5], show_x=False)
axes["yaxis11"].update(visible=False)
heat(xa, ya, z_c)
block(108.5, 751.8, 280.7, 768.3, GREY_BAR)
block(280.7, 751.8, 373, 768.3, ORANGE_BAR)
text(245, 693, "<b>ABC-DLBCL</b>", 18.5, "center")
text(243, 715.6, "% of SHM<sup>—</sup> &amp; SHM<sup>+</sup> normal B-cell clonotypes:", 18.5, "center")
text(161.4, 738.4, "<b>Both low%</b>", 18.5, "center")
text(243, 738.4, "<i>vs.</i>", 18.5, "center")
text(332.9, 738.4, "<b>Both high%</b>", 18.5, "center")
text(-1, 653, "<b>(C)</b>", 40)
for names, ys, px in [(C_LEFT, C_LEFT_Y, 380), (C_RIGHT, C_RIGHT_Y, 428.6)]:
    for g, yy in zip(names, ys):
        text(px, yy, g, 5 if g in C_SMALL else 7, color="#222222")

# colour key of panel C
block(491, 855.4, 537.5, 931.7, "#eeeeee")
xa, ya = add_axes(14, 491, 501, 858, 929, [-0.5, 0.5], [6.5, -0.5], show_x=False, yt=list(range(7)), yl=LEGEND_TEXT, ysize=11.5)
axes["yaxis14"].update(side="right", showline=False, ticklen=1, ticks="")
heat(xa, ya, [[v] for v in LEGEND_VALUES],
     [[0, "#00ff00"], [1 / 6, "#00aa00"], [2 / 6, "#005500"], [0.5, "#000000"], [4 / 6, "#550000"], [5 / 6, "#aa0000"], [1, "#ff0000"]])

# ---------- (D) heatmap ----------
z_d = heat_rows(HEAT_D, 41)
xa, ya = add_axes(12, 1439.3, 1703.3, 87.3, 855, [-0.5, 40.5], [z_d.shape[0] - 0.5, -0.5], show_x=False)
axes["yaxis12"].update(visible=False)
heat(xa, ya, z_d)
block(1437, 66, 1530, 82.7, GREY_BAR)
block(1530, 66, 1704, 82.7, ORANGE_BAR)
text(1588, 15, "<b>GCB-DLBCL</b>", 18.5, "center")
text(1606, 37.6, "% of SHM<sup>—</sup> &amp; SHM<sup>+</sup> normal B-cell clonotypes:", 20, "center")
text(1482.7, 56.7, "<b>Both low%</b>", 18.5, "center")
text(1563, 56.7, "<i>vs.</i>", 18.5, "center")
text(1637.7, 56.7, "<b>Both high%</b>", 18.5, "center")
text(1314, 17, "<b>(D)</b>", 40)
for names, ys, px in [(D_LEFT, D_LEFT_Y, 1709.3), (D_RIGHT, D_RIGHT_Y, 1751)]:
    for g, yy in zip(names, ys):
        text(px, yy, g, 5 if g in D_SMALL else 7, color="#222222")

# ---------- 'DJ-only' heatmap ----------
z_dj = heat_rows(HEAT_DJ, 28)
xa, ya = add_axes(13, 1845, 2019.3, 245.3, 844, [-0.5, 27.5], [len(DJ_GENES) - 0.5, -0.5], show_x=False,
                  yt=list(range(len(DJ_GENES))), yl=DJ_GENES, ysize=10.2)
axes["yaxis13"].update(side="right", showline=False, ticks="", ticklabelstandoff=6)
heat(xa, ya, z_dj)
block(1845, 226, 1954.3, 242.7, "#5a5a5a")
block(1954.3, 226, 2019.3, 242.7, RUST_BAR)
text(1929.3, 169, "<b>‘DJ-only’ cases</b>", 18.5, "center")
text(1958.5, 195.5, "<b>Frequency of VDJ clonotypes:</b>", 16.3, "center")
text(1890.7, 216, "<b>&lt;7%</b>", 16, "center")
text(1947.3, 216, "<b><i>vs.</i></b>", 16, "center")
text(1993.3, 216, "<b>≥7%</b>", 16, "center")

fig.update_layout(
    width=W, height=H, autosize=False, margin=dict(l=0, r=0, t=0, b=0, pad=0),
    paper_bgcolor="white", plot_bgcolor="rgba(0,0,0,0)", showlegend=False, barmode="overlay",
    font=dict(family=FONT, color="black"), annotations=annots, shapes=shapes, **axes,
)

fig.write_html("out.html", config=dict(displayModeBar=False), post_script="document.body.style.margin='0';")
